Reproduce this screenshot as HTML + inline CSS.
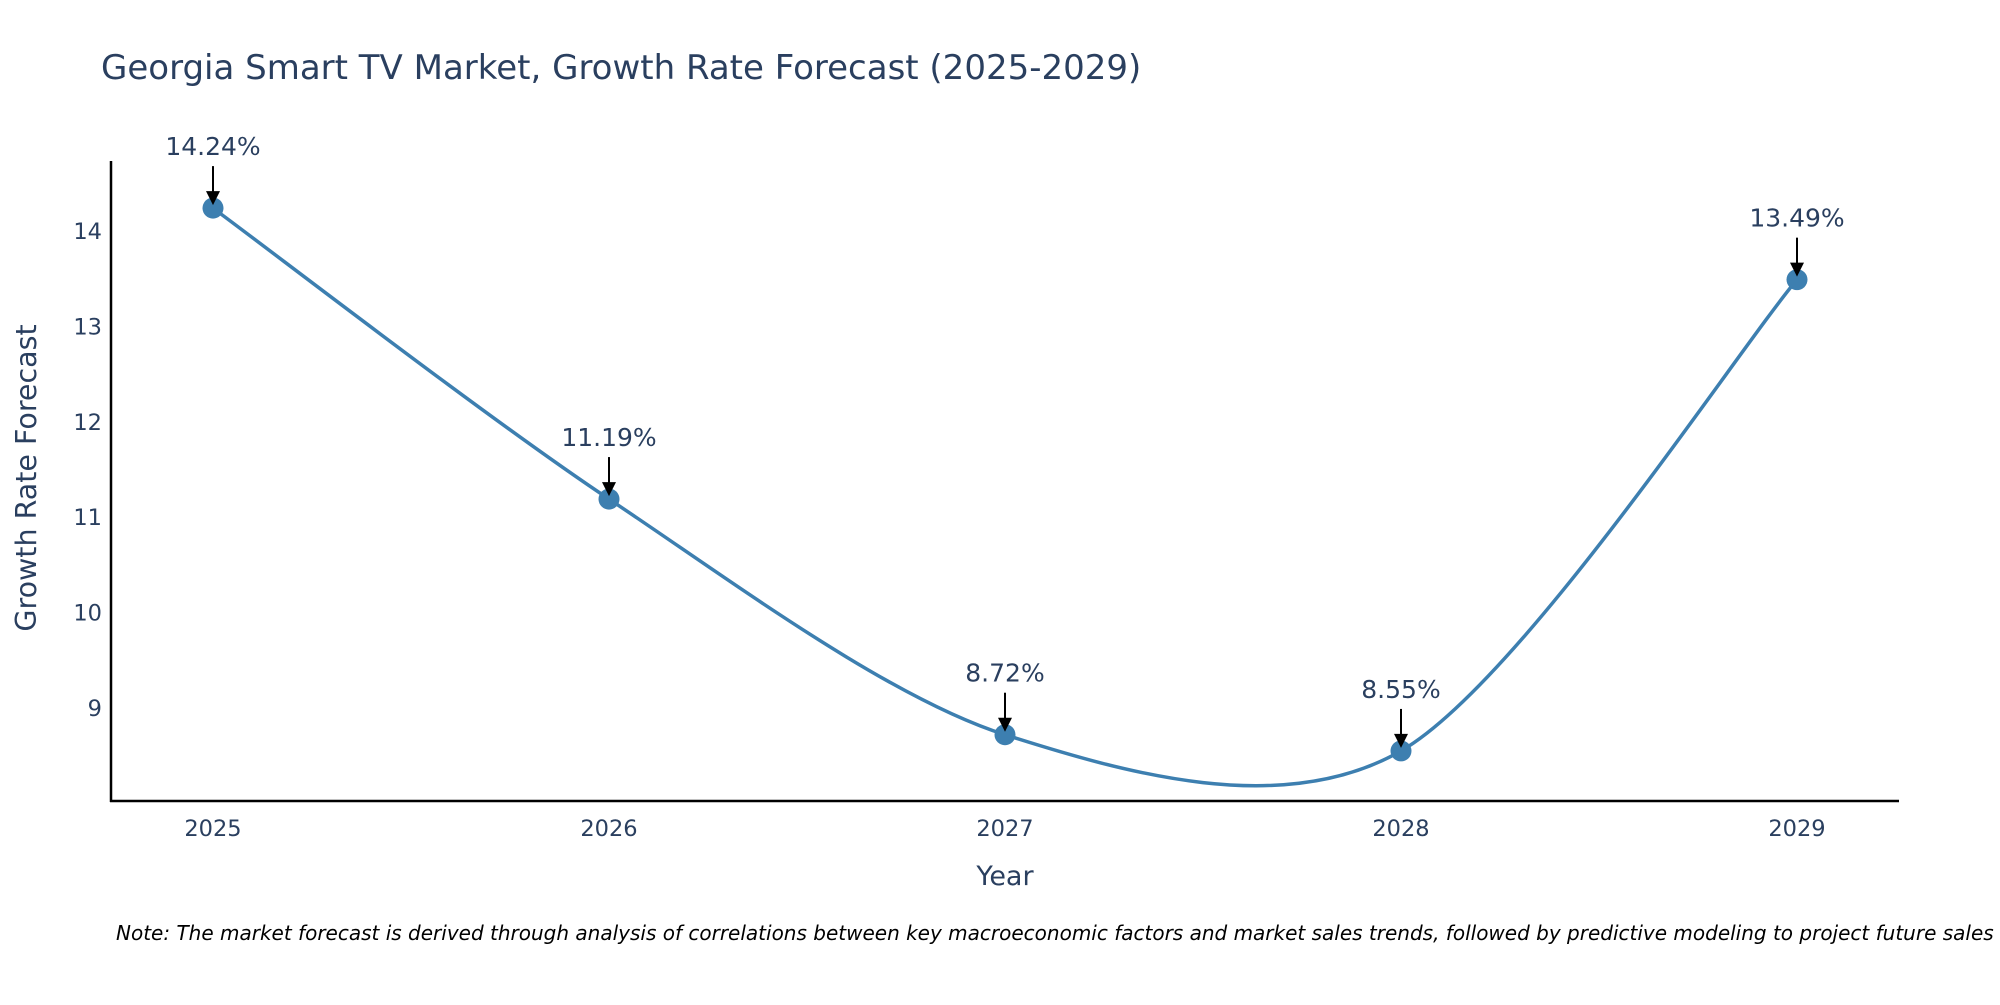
<!DOCTYPE html>
<html><head><meta charset="utf-8"><style>
body{margin:0;background:#fff;}
svg text{font-family:"DejaVu Sans","Liberation Sans",sans-serif;fill:#2a3f5f;}
</style></head><body>
<svg width="2000" height="1000" xmlns="http://www.w3.org/2000/svg">
<text x="101" y="79" font-size="34">Georgia Smart TV Market, Growth Rate Forecast (2025-2029)</text>
<g id="yticks"></g>
<g id="xticks"></g>
<line x1="111" y1="161" x2="111" y2="802" stroke="#000" stroke-width="2.5"/>
<line x1="110" y1="801" x2="1899" y2="801" stroke="#000" stroke-width="2.5"/>
<path id="line" fill="none" stroke="#3d7fb0" stroke-width="3.5"/>
<g id="points"></g>
<g id="annots"></g>
<text x="1005" y="885" font-size="27" text-anchor="middle">Year</text>
<text x="0" y="0" font-size="28.5" text-anchor="middle" transform="translate(36,478) rotate(-90)">Growth Rate Forecast</text>
<text x="116" y="940" font-size="20" font-style="italic" style="fill:#000">Note: The market forecast is derived through analysis of correlations between key macroeconomic factors and market sales trends, followed by predictive modeling to project future sales</text>
</svg>
<script>
const years=[2025,2026,2027,2028,2029];
const values=[14.24,11.19,8.72,8.55,13.49];
const labels=["14.24%","11.19%","8.72%","8.55%","13.49%"];
const yTicks=[9,10,11,12,13,14];
const NS="http://www.w3.org/2000/svg";
function xs(v){return 213+(v-2025)*396;}
function ys(v){return 231-(v-14)*95.4;}
function mk(tag,attrs,parent){const e=document.createElementNS(NS,tag);for(const k in attrs)e.setAttribute(k,attrs[k]);parent.appendChild(e);return e;}
const yt=document.getElementById('yticks');
yTicks.forEach(t=>{const e=mk('text',{x:102,y:ys(t)+8,'font-size':22.5,'text-anchor':'end'},yt);e.textContent=t;

});
const xt=document.getElementById('xticks');
years.forEach(t=>{const e=mk('text',{x:xs(t),y:836,'font-size':22.5,'text-anchor':'middle'},xt);e.textContent=t;

});
const P=years.map((y,i)=>[xs(y),ys(values[i])]);
let d=`M${P[0][0]},${P[0][1]}`;
const k=0.15;
for(let i=0;i<P.length-1;i++){
 const p0=P[Math.max(0,i-1)],p1=P[i],p2=P[i+1],p3=P[Math.min(P.length-1,i+2)];
 const c1=[p1[0]+(p2[0]-p0[0])*k,p1[1]+(p2[1]-p0[1])*k];
 const c2=[p2[0]-(p3[0]-p1[0])*k,p2[1]-(p3[1]-p1[1])*k];
 d+=` C${c1[0]},${c1[1]} ${c2[0]},${c2[1]} ${p2[0]},${p2[1]}`;
}
document.getElementById('line').setAttribute('d',d);
const pts=document.getElementById('points'),an=document.getElementById('annots');
P.forEach((p,i)=>{
 const c=mk('circle',{cx:p[0],cy:p[1],r:10.5,fill:'#3d7fb0'},pts);
 
 
 const l=mk('line',{x1:p[0],y1:p[1]-42,x2:p[0],y2:p[1]-14,stroke:'#000','stroke-width':2},an);
 
 
 const h=mk('polygon',{points:`${p[0]-7},${p[1]-17} ${p[0]+7},${p[1]-17} ${p[0]},${p[1]-3}`,fill:'#000'},an);
 
 
 const t=mk('text',{x:p[0],y:p[1]-53,'font-size':25,'text-anchor':'middle'},an);t.textContent=labels[i];
 
 
});
</script>
</body></html>
